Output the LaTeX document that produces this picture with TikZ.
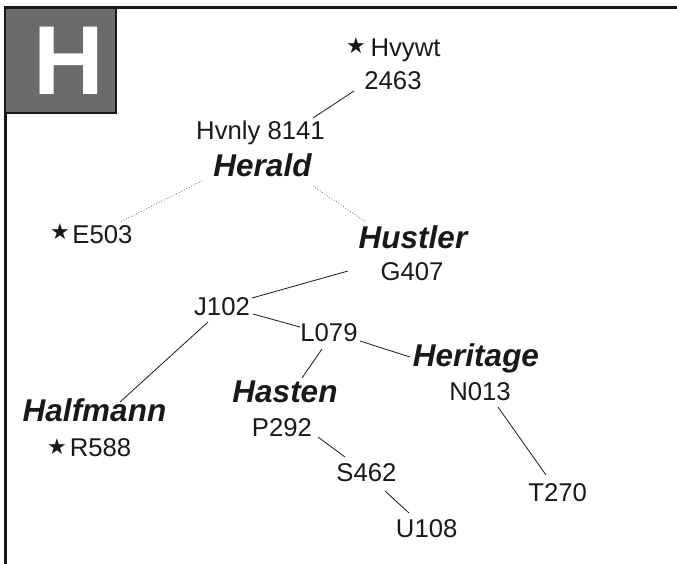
\documentclass[tikz,border=0pt]{standalone}
\usepackage{fontspec}
\setmainfont{Liberation Sans}
\newfontfamily\symfont{DejaVu Sans}
\definecolor{boxgray}{RGB}{107,107,107}
\definecolor{ink}{RGB}{25,25,25}
\begin{document}
\begin{tikzpicture}[x=1pt,y=-1pt,
 lbl/.style={anchor=base,inner sep=0pt,font=\fontsize{25.7}{30}\selectfont,text=ink},
 bname/.style={anchor=base,inner sep=0pt,font=\fontsize{31.5}{36}\selectfont\bfseries\itshape,text=ink},
 starmark/.style={inner sep=0pt,font=\symfont\fontsize{22}{22}\selectfont,text=ink},
 link/.style={draw=ink,line width=0.8pt},
 dotlink/.style={draw=black!60,line width=0.8pt,dotted}]
\useasboundingbox (0,0) rectangle (677,564);
% frame
\draw[line width=3pt,ink] (5,564) -- (5,7.5) -- (677,7.5);
\filldraw[fill=boxgray,draw=ink,line width=2.5pt] (5,7.5) rectangle (116,113);
\node[anchor=base,inner sep=0pt,font=\fontsize{98}{98}\selectfont\bfseries,text=white] (bigh) at (69,95) {H};
% labels
\node[starmark] (s1) at (356,46) {★};
\node[lbl] (hvywt) at (405.5,57) {Hvywt};
\node[lbl] (n2463) at (393,90) {2463};
\node[lbl] (hvnly) at (260.5,140) {Hvnly 8141};
\node[bname] (herald) at (262.5,176.5) {Herald};
\node[starmark] (s2) at (60,232) {★};
\node[lbl] (e503) at (102.5,243) {E503};
\node[bname] (hustler) at (413,248) {Hustler};
\node[lbl] (g407) at (412,280) {G407};
\node[lbl] (j102) at (222,315) {J102};
\node[lbl] (l079) at (329,341.5) {L079};
\node[bname] (heritage) at (476,366.5) {Heritage};
\node[bname] (hasten) at (285,402) {Hasten};
\node[lbl] (n013) at (480,400.5) {N013};
\node[bname] (halfmann) at (94.5,421.5) {Halfmann};
\node[starmark] (s3) at (57,447) {★};
\node[lbl] (r588) at (100.5,456) {R588};
\node[lbl] (p292) at (282,436) {P292};
\node[lbl] (s462) at (366.5,481.5) {S462};
\node[lbl] (t270) at (557.7,501.5) {T270};
\node[lbl] (u108) at (426.7,537) {U108};
% connector ends
\coordinate (a1) at (354,91);   \coordinate (a2) at (313,118);
\coordinate (b1) at (202,181);  \coordinate (b2) at (120,222);
\coordinate (c1) at (313,186);  \coordinate (c2) at (366,222);
\coordinate (d1) at (348,271);  \coordinate (d2) at (252,298);
\coordinate (e1) at (253,314);  \coordinate (e2) at (300,327);
\coordinate (f1) at (360,341);  \coordinate (f2) at (410,357);
\coordinate (g1) at (322,349);  \coordinate (g2) at (302,378);
\coordinate (h1) at (208,322);  \coordinate (h2) at (120,402);
\coordinate (i1) at (498,407);  \coordinate (i2) at (546,475);
\coordinate (j1) at (318,437);  \coordinate (j2) at (345,457);
\coordinate (k1) at (385,491);  \coordinate (k2) at (409,513);
\draw[link] (a1) -- (a2);
\draw[dotlink] (b1) -- (b2);
\draw[dotlink] (c1) -- (c2);
\draw[link] (d1) -- (d2);
\draw[link] (e1) -- (e2);
\draw[link] (f1) -- (f2);
\draw[link] (g1) -- (g2);
\draw[link] (h1) -- (h2);
\draw[link] (i1) -- (i2);
\draw[link] (j1) -- (j2);
\draw[link] (k1) -- (k2);
\end{tikzpicture}
\end{document}
